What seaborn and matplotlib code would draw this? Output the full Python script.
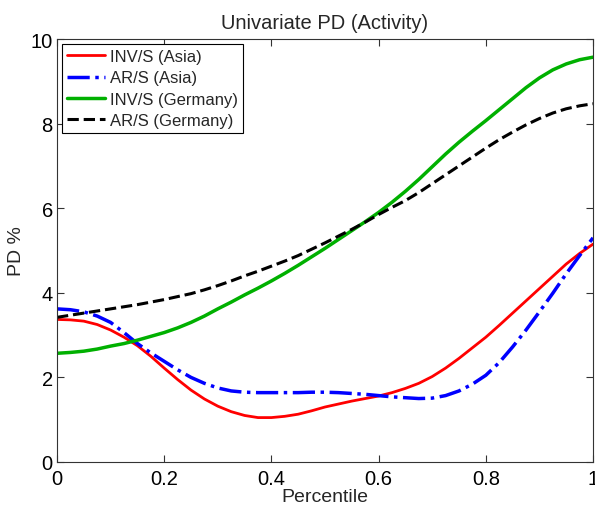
import numpy as np
import pandas as pd
import matplotlib
matplotlib.use("Agg")
import matplotlib.pyplot as plt
import seaborn as sns

sns.set_style("ticks")
plt.rcParams['font.family'] = ['Liberation Sans', 'DejaVu Sans']

percentile = [0.0, 0.025, 0.05, 0.075, 0.1, 0.125, 0.15, 0.175, 0.2, 0.225,
              0.25, 0.275, 0.3, 0.325, 0.35, 0.375, 0.4, 0.425, 0.45, 0.475,
              0.5, 0.525, 0.55, 0.575, 0.6, 0.625, 0.65, 0.675, 0.7, 0.725,
              0.75, 0.775, 0.8, 0.825, 0.85, 0.875, 0.9, 0.925, 0.95, 0.975, 1.0]
inv_asia = [3.37, 3.36, 3.33, 3.25, 3.12, 2.95, 2.75, 2.50, 2.22, 1.95,
            1.70, 1.49, 1.32, 1.19, 1.10, 1.05, 1.05, 1.08, 1.13, 1.21,
            1.30, 1.37, 1.44, 1.50, 1.56, 1.64, 1.74, 1.86, 2.02, 2.22,
            2.45, 2.70, 2.95, 3.23, 3.52, 3.81, 4.10, 4.39, 4.68, 4.93, 5.15]
ar_asia = [3.62, 3.60, 3.55, 3.45, 3.30, 3.06, 2.80, 2.58, 2.38, 2.18,
           2.00, 1.86, 1.75, 1.68, 1.65, 1.64, 1.64, 1.64, 1.64, 1.65,
           1.65, 1.64, 1.62, 1.60, 1.57, 1.54, 1.52, 1.50, 1.51, 1.57,
           1.68, 1.84, 2.05, 2.35, 2.72, 3.12, 3.55, 3.99, 4.45, 4.88, 5.30]
inv_germany = [2.57, 2.59, 2.62, 2.67, 2.74, 2.80, 2.88, 2.97, 3.06, 3.17,
               3.30, 3.45, 3.62, 3.78, 3.95, 4.11, 4.28, 4.46, 4.65, 4.85,
               5.05, 5.26, 5.47, 5.68, 5.90, 6.14, 6.40, 6.68, 6.98, 7.28,
               7.56, 7.82, 8.07, 8.33, 8.59, 8.85, 9.08, 9.27, 9.41, 9.51, 9.57]
ar_germany = [3.42, 3.47, 3.52, 3.57, 3.62, 3.67, 3.72, 3.78, 3.84, 3.91,
              3.98, 4.07, 4.17, 4.28, 4.40, 4.51, 4.63, 4.75, 4.88, 5.03,
              5.18, 5.34, 5.50, 5.67, 5.85, 6.02, 6.18, 6.37, 6.58, 6.79,
              7.00, 7.21, 7.42, 7.62, 7.80, 7.97, 8.12, 8.25, 8.35, 8.42, 8.47]

labels = ["INV/S (Asia)", "AR/S (Asia)", "INV/S (Germany)", "AR/S (Germany)"]
series = [inv_asia, ar_asia, inv_germany, ar_germany]
colors = ["#ff0000", "#0000ff", "#00b000", "#000000"]
styles = ["-", "-.", "-", "--"]
widths = [2.0, 2.5, 2.5, 2.2]

fig = plt.figure(figsize=(5.95, 5.06), dpi=100)
ax = fig.add_axes([57/595, 43/506, 536/595, 423/506])

for lab, vals, c, ls, lw in zip(labels, series, colors, styles, widths):
    df = pd.DataFrame({"Percentile": percentile, "PD": vals})
    sns.lineplot(data=df, x="Percentile", y="PD", ax=ax, color=c,
                 linestyle=ls, linewidth=lw, label=lab)

ax.set_xlim(0, 1)
ax.set_ylim(0, 10)
ax.set_xticks([0, 0.2, 0.4, 0.6, 0.8, 1])
ax.set_xticklabels(["0", "0.2", "0.4", "0.6", "0.8", "1"])
ax.set_yticks([0, 2, 4, 6, 8, 10])
ax.tick_params(direction="in", top=True, right=True, labelsize=14.5,
               length=5, width=0.8, colors="#333333", labelcolor="black")
ax.tick_params(axis="x", pad=5)
ax.tick_params(axis="y", pad=3)
for s in ax.spines.values():
    s.set_color("#333333")
    s.set_linewidth(0.8)
ax.set_xlabel("Percentile", fontsize=14, labelpad=0)
ax.set_ylabel("PD %", fontsize=14, labelpad=4)
ax.set_title("Univariate PD (Activity)", fontsize=14.5, pad=8)

leg = ax.legend(loc="upper left", fontsize=12, frameon=True, fancybox=False,
                edgecolor="black", framealpha=1, handlelength=2.3,
                handletextpad=0.3, borderpad=0.3, labelspacing=0.38,
                borderaxespad=0.3)
leg.get_frame().set_linewidth(0.8)

fig.savefig("out.png", dpi=100)
